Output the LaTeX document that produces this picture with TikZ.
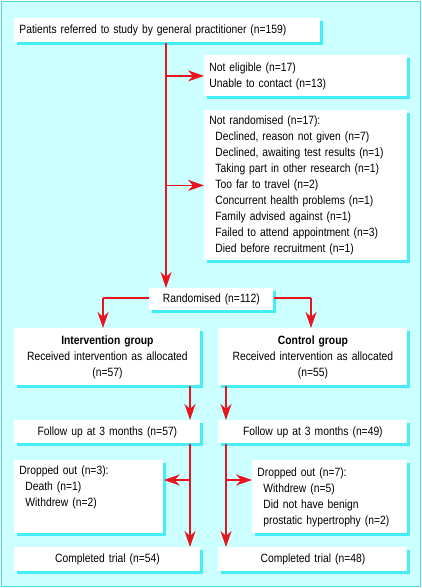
\documentclass[tikz,border=0pt]{standalone}
\usepackage{fontspec}
\setmainfont[FakeStretch=0.86]{Liberation Sans}
\usetikzlibrary{shapes, arrows.meta, shadows, positioning}

\definecolor{panel}{HTML}{CCFFFF}
\definecolor{rim}{HTML}{50D8E0}
\definecolor{shade}{HTML}{44EEF6}
\definecolor{flow}{HTML}{E8141E}

\begin{document}
\begin{tikzpicture}[x=1pt, y=-1pt,
  font=\fontsize{12}{16}\selectfont,
  box/.style={fill=white, anchor=north west, inner ysep=0pt,
    drop shadow={shadow xshift=3pt, shadow yshift=-3pt, fill=shade, opacity=1}},
  lbox/.style={box, align=left, inner xsep=5pt, text width=#1},
  cbox/.style={box, align=center, inner xsep=0pt, text width=#1},
  arr/.style={->, >={Stealth[length=16pt, width=11pt, inset=5pt]},
    draw=flow, line width=1.4pt},
  link/.style={draw=flow, line width=1.4pt},
  thick]

  \useasboundingbox (0,0) rectangle (422,588);
  \draw[rim, fill=panel, line width=1pt] (1,2) rectangle (420,586);

  % boxes
  \node[lbox=296, minimum height=24pt] (referred) at (14,18)
    {Patients referred to study by general practitioner (n=159)};
  \node[lbox=193, minimum height=41pt] (excl) at (204,55)
    {Not eligible (n=17)\\Unable to contact (n=13)};
  \node[lbox=193, minimum height=150pt] (notrand) at (204,110)
    {Not randomised (n=17):\\
     \hspace*{6pt}Declined, reason not given (n=7)\\
     \hspace*{6pt}Declined, awaiting test results (n=1)\\
     \hspace*{6pt}Taking part in other research (n=1)\\
     \hspace*{6pt}Too far to travel (n=2)\\
     \hspace*{6pt}Concurrent health problems (n=1)\\
     \hspace*{6pt}Family advised against (n=1)\\
     \hspace*{6pt}Failed to attend appointment (n=3)\\
     \hspace*{6pt}Died before recruitment (n=1)};
  \node[cbox=124, minimum height=22pt] (rand) at (149,288) {Randomised (n=112)};

  \node[cbox=186, minimum height=57pt] (intgrp) at (14,328)
    {\textbf{Intervention group}\\Received intervention as allocated\\(n=57)};
  \node[cbox=189, minimum height=57pt] (ctlgrp) at (218,328)
    {\textbf{Control group}\\Received intervention as allocated\\(n=55)};

  \node[cbox=186, minimum height=23pt] (fuA) at (14,420) {Follow up at 3 months (n=57)};
  \node[cbox=189, minimum height=23pt] (fuB) at (218,420) {Follow up at 3 months (n=49)};

  \node[lbox=139, minimum height=73pt] (dropA) at (14,460)
    {Dropped out (n=3):\\
     \hspace*{6pt}Death (n=1)\\
     \hspace*{6pt}Withdrew (n=2)\\ \strut};
  \node[lbox=145, minimum height=73pt] (dropB) at (252,460)
    {Dropped out (n=7):\\
     \hspace*{6pt}Withdrew (n=5)\\
     \hspace*{6pt}Did not have benign\\
     \hspace*{6pt}prostatic hypertrophy (n=2)};

  \node[cbox=186, minimum height=24pt] (doneA) at (14,547) {Completed trial (n=54)};
  \node[cbox=189, minimum height=24pt] (doneB) at (218,547) {Completed trial (n=48)};

  % connectors
  \coordinate (trunk) at (166,42);
  \coordinate (laneA) at (190,0);
  \coordinate (laneB) at (226,0);
  \coordinate (forkA) at (190,480);
  \coordinate (forkB) at (226,480);
  \coordinate (splitA) at (103,298);
  \coordinate (splitB) at (311,298);

  \draw[arr] (referred.south -| trunk) -- (rand.north -| trunk);
  \draw[arr] (excl.west -| trunk) -- (excl.west);
  \draw[arr] (notrand.west -| trunk) -- (notrand.west);
  \draw[link] (rand.west |- splitA) -- (splitA);
  \draw[arr] (splitA) -- (splitA |- intgrp.north);
  \draw[link] (rand.east |- splitB) -- (splitB);
  \draw[arr] (splitB) -- (splitB |- ctlgrp.north);

  \draw[arr] (intgrp.south -| laneA) -- (fuA.north -| laneA);
  \draw[arr] (ctlgrp.south -| laneB) -- (fuB.north -| laneB);
  \draw[arr] (fuA.south -| laneA) -- (doneA.north -| laneA);
  \draw[arr] (fuB.south -| laneB) -- (doneB.north -| laneB);
  \draw[arr] (forkA) -- (forkA -| dropA.east);
  \draw[arr] (forkB) -- (forkB -| dropB.west);
\end{tikzpicture}
\end{document}
